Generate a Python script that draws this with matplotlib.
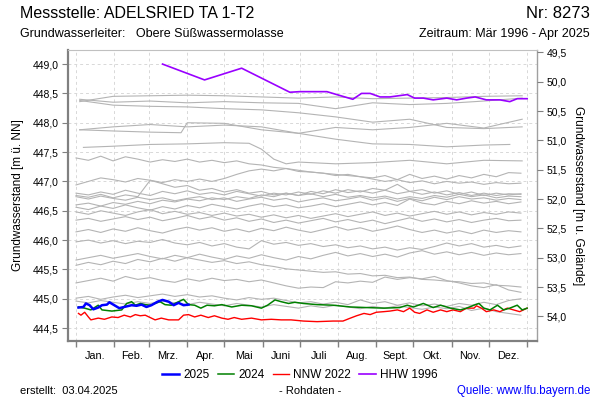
import numpy as np
import matplotlib
matplotlib.use('Agg')
from matplotlib import pyplot as plt
from matplotlib.ticker import FuncFormatter

plt.rcParams['font.family'] = ['Liberation Sans', 'DejaVu Sans']

# ground level of the well [m NN], used for the right axis (m below ground)
ground_level = 498.7

month_starts = [0, 31, 59, 90, 120, 151, 181, 212, 243, 273, 304, 334, 365]
month_names = ['Jan.', 'Feb.', 'Mrz.', 'Apr.', 'Mai', 'Juni', 'Juli', 'Aug.', 'Sept.', 'Okt.', 'Nov.', 'Dez.']

# older years, monthly readings
days_s = [3, 30, 60, 90, 120, 150, 180, 210, 240, 270, 300, 330, 361]
s1 = [448.36, 448.45, 448.46, 448.47, 448.46, 448.44, 448.42, 448.44, 448.41, 448.42, 448.43, 448.45, 448.46]
s2 = [448.40, 448.35, 448.37, 448.34, 448.36, 448.34, 448.33, 448.24, 448.34, 448.31, 448.33, 448.37, 448.42]
s3 = [448.38, 448.30, 448.28, 448.27, 448.24, 448.22, 448.17, 448.10, 448.01, 448.06, 447.92, 447.90, 447.93]
s4 = [447.88, 447.93, 447.97, 447.93, 447.96, 447.93, 447.82, 447.92, 447.88, 447.92, 447.99, 447.91, 448.06]
s5_days = [3, 30, 60, 85, 90, 120, 150, 180, 210, 240, 270, 300, 330, 351]
s5 = [447.88, 447.86, 447.84, 447.83, 448.00, 447.99, 447.88, 447.82, 447.72, 447.64, 447.63, 447.59, 447.62, 447.63]
s6_days = [6, 30, 60, 90, 120, 140, 150, 160, 170, 180, 210, 240, 270, 300, 330, 361]
s6 = [447.58, 447.60, 447.63, 447.64, 447.66, 447.65, 447.55, 447.38, 447.30, 447.33, 447.30, 447.32, 447.36, 447.30, 447.36, 447.35]

days_j = [0, 10, 20, 30, 40, 50, 60, 70, 80, 90, 100, 110, 120, 130, 140, 150, 160, 170, 180,
          190, 200, 210, 220, 230, 240, 250, 260, 270, 280, 290, 300, 310, 320, 330, 340, 350, 360]
j1 = [447.40,447.36,447.43,447.35,447.42,447.38,447.33,447.37,447.34,447.38,447.33,447.36,447.32,447.35,447.30,447.28,447.24,447.22,447.17,447.16,447.14,447.12,447.10,447.08,447.04,447.00,447.03,446.98,447.01,446.96,447.00,446.97,446.99,446.95,446.98,446.96,446.97]
j2 = [446.94,447.00,447.06,447.03,446.99,447.05,447.02,446.98,447.03,447.00,447.04,447.00,447.05,447.12,447.18,447.21,447.18,447.22,447.19,447.16,447.14,447.10,447.12,447.08,447.06,447.10,447.03,447.12,447.05,447.09,447.04,447.10,447.06,447.12,447.08,447.15,447.14]
j3 = [446.80,446.77,446.82,446.78,446.85,446.80,446.76,446.83,446.79,446.84,446.78,446.81,446.77,446.83,446.79,446.75,446.80,446.77,446.82,446.78,446.84,446.80,446.86,446.82,446.88,446.85,446.95,446.83,446.86,446.80,446.84,446.78,446.82,446.76,446.80,446.77,446.79]
j4 = [446.76,446.73,446.78,446.72,446.77,446.74,447.02,446.96,446.90,446.93,446.85,446.88,446.82,446.86,446.80,446.83,446.77,446.80,446.76,446.79,446.74,446.78,446.73,446.76,446.72,446.75,446.70,446.74,446.71,446.76,446.73,446.78,446.74,446.77,446.72,446.75,446.74]
j5 = [446.74,446.70,446.75,446.71,446.68,446.73,446.69,446.72,446.67,446.71,446.74,446.69,446.72,446.66,446.70,446.73,446.68,446.71,446.65,446.69,446.72,446.67,446.70,446.74,446.68,446.72,446.66,446.71,446.67,446.73,446.69,446.74,446.70,446.72,446.68,446.71,446.69]
j6 = [446.60,446.63,446.58,446.64,446.61,446.66,446.62,446.68,446.65,446.70,446.67,446.72,446.69,446.74,446.71,446.77,446.74,446.80,446.76,446.83,446.79,446.86,446.81,446.84,446.80,446.85,446.79,446.83,446.78,446.82,446.77,446.81,446.76,446.80,446.76,446.79,446.78]
j7 = [446.56,446.52,446.58,446.54,446.60,446.55,446.51,446.57,446.53,446.59,446.55,446.61,446.57,446.53,446.58,446.62,446.57,446.60,446.55,446.58,446.62,446.57,446.61,446.65,446.60,446.64,446.59,446.70,446.63,446.60,446.66,446.62,446.67,446.63,446.66,446.62,446.65]
j8 = [446.48,446.44,446.50,446.46,446.42,446.48,446.52,446.45,446.49,446.44,446.47,446.42,446.46,446.41,446.44,446.39,446.43,446.38,446.42,446.37,446.41,446.45,446.40,446.44,446.48,446.42,446.46,446.41,446.45,446.49,446.44,446.48,446.43,446.47,446.44,446.48,446.46]
j9 = [446.34,446.37,446.32,446.36,446.40,446.35,446.39,446.33,446.37,446.42,446.36,446.40,446.34,446.38,446.32,446.36,446.30,446.34,446.29,446.33,446.37,446.31,446.35,446.30,446.34,446.28,446.33,446.38,446.32,446.36,446.31,446.35,446.30,446.34,446.37,446.33,446.34]
j10 = [446.14,446.18,446.13,446.19,446.15,446.21,446.16,446.12,446.18,446.22,446.17,446.21,446.15,446.19,446.14,446.20,446.16,446.22,446.17,446.13,446.18,446.23,446.17,446.21,446.15,446.19,446.24,446.18,446.13,446.17,446.12,446.16,446.11,446.17,446.13,446.16,446.14]
j11 = [445.97,446.00,445.95,445.99,445.94,445.98,445.96,446.01,445.95,445.92,445.96,445.90,445.94,445.88,445.85,445.99,445.93,445.96,445.91,445.94,445.89,445.92,445.87,445.90,445.85,445.88,445.83,445.87,445.84,445.89,445.95,445.90,445.94,445.88,445.91,445.87,445.90]
l1 = [445.66,445.70,445.74,445.69,445.73,445.77,445.72,445.68,445.74,445.70,445.76,445.71,445.67,445.73,445.69,445.75,445.70,445.66,445.72,445.68,445.74,445.79,445.73,445.77,445.72,445.76,445.71,445.78,445.82,445.76,445.80,445.75,445.79,445.74,445.78,445.75,445.77]
l2 = [445.57,445.62,445.58,445.64,445.60,445.67,445.63,445.69,445.64,445.70,445.66,445.62,445.65,445.60,445.63,445.58,445.55,445.51,445.49,445.47,445.45,445.46,445.42,445.43,445.39,445.40,445.36,445.37,445.33,445.32,445.30,445.29,445.26,445.27,445.23,445.22,445.20]
l3 = [445.27,445.31,445.35,445.30,445.38,445.33,445.36,445.31,445.28,445.34,445.30,445.35,445.31,445.33,445.29,445.32,445.27,445.22,445.18,445.20,445.19,445.29,445.27,445.30,445.28,445.37,445.33,445.36,445.34,445.38,445.31,445.27,445.22,445.19,445.24,445.15,445.11]
l4 = [445.01,445.04,444.99,445.03,445.06,445.02,445.05,445.08,445.04,445.07,445.03,445.05,445.01,444.98,445.02,444.99,445.01,444.97,444.93,444.95,444.91,444.94,444.90,444.98,444.92,444.95,444.89,444.93,444.88,444.91,444.87,444.92,444.89,444.94,444.90,444.97,445.00]
l5 = [444.96,444.93,444.97,444.94,444.91,444.95,444.92,444.96,444.93,444.90,444.94,444.91,444.88,444.92,444.89,444.86,444.90,444.87,444.84,444.88,444.85,444.89,444.86,444.83,444.87,444.84,444.88,444.85,444.82,444.86,444.83,444.87,444.80,444.84,444.78,444.75,444.72]

days_2025 = [2,6,8,11,14,18,21,25,27,31,35,39,45,49,53,57,61,66,70,75,79,83,87,91]
vals_2025 = [444.85,444.86,444.92,444.89,444.82,444.85,444.89,444.90,444.94,444.89,444.84,444.86,
             444.89,444.88,444.90,444.86,444.89,444.95,444.98,444.95,444.89,444.93,444.89,444.90]

days_2024 = [2,7,12,18,21,29,37,41,45,48,52,56,60,64,68,72,77,83,87,91,96,101,106,112,118,126,134,142,150,155,
             161,166,172,177,184,195,208,222,235,249,262,268,273,281,289,295,303,311,316,322,326,330,335,341,346,351,357,361,365]
vals_2024 = [444.86,444.84,444.81,444.89,444.81,444.79,444.81,444.92,444.95,444.89,444.92,444.90,444.89,444.92,444.95,
             444.90,444.89,444.95,444.99,444.90,444.89,444.84,444.89,444.88,444.90,444.86,444.89,444.88,444.84,444.89,
             444.98,444.95,444.92,444.94,444.92,444.90,444.89,444.86,444.85,444.84,444.85,444.89,444.86,444.92,444.85,
             444.89,444.84,444.81,444.84,444.89,444.92,444.84,444.81,444.89,444.81,444.84,444.89,444.81,444.84]

days_2022 = [2,4,7,10,12,18,23,29,34,39,44,48,52,56,60,64,69,75,83,87,91,96,101,107,112,118,123,128,134,142,
             150,158,166,174,184,195,208,216,222,227,233,238,243,249,254,260,265,270,274,278,284,289,295,300,305,
             311,316,322,324,328,332,338,343,349,354,359,365]
vals_2022 = [444.75,444.72,444.77,444.69,444.64,444.67,444.65,444.69,444.68,444.72,444.69,444.73,444.71,444.72,444.68,
             444.64,444.67,444.64,444.64,444.72,444.73,444.69,444.72,444.68,444.71,444.67,444.65,444.68,444.65,444.67,
             444.64,444.65,444.64,444.64,444.62,444.61,444.62,444.62,444.67,444.71,444.75,444.73,444.77,444.78,444.79,
             444.81,444.78,444.84,444.77,444.75,444.81,444.77,444.81,444.78,444.81,444.78,444.84,444.84,444.88,444.84,
             444.78,444.81,444.78,444.84,444.81,444.78,444.84]

days_1996 = [70,104,134,173,181,203,211,224,231,238,246,254,268,274,281,289,300,308,316,323,332,343,351,357,365]
vals_1996 = [449.00,448.73,448.93,448.52,448.53,448.53,448.48,448.40,448.50,448.50,448.44,448.44,448.48,448.42,448.42,
             448.39,448.42,448.39,448.42,448.44,448.39,448.39,448.36,448.41,448.41]

left_ticks = [444.5, 445.0, 445.5, 446.0, 446.5, 447.0, 447.5, 448.0, 448.5, 449.0]
right_ticks = [49.5, 50.0, 50.5, 51.0, 51.5, 52.0, 52.5, 53.0, 53.5, 54.0]

fig = plt.figure(figsize=(6, 4), dpi=100)
ax = fig.add_axes([0.1133, 0.1475, 0.7817, 0.7275])

grey = '#b4b4b4'
for v in [s1, s2, s3, s4]:
    ax.plot(days_s, v, color=grey, lw=0.8)
ax.plot(s5_days, s5, color=grey, lw=0.8)
ax.plot(s6_days, s6, color=grey, lw=0.8)
for v in [j1, j2, j3, j4, j5, j6, j7, j8, j9, j10, j11, l1, l2, l3, l4, l5]:
    ax.plot(days_j, v, color=grey, lw=0.8)

ax.plot(days_2022, vals_2022, color='#ff0000', lw=1.0)
ax.plot(days_2024, vals_2024, color='#008000', lw=1.1)
ax.plot(days_2025, vals_2025, color='#0000ff', lw=1.8)
ax.plot(days_1996, vals_1996, color='#9900ff', lw=1.2)

ymin, ymax = 444.28, 449.24
ax.set_xlim(-6.5, 373)
ax.set_ylim(ymin, ymax)

fmt = FuncFormatter(lambda v, p: ('%.1f' % v).replace('.', ','))
ax.set_yticks(left_ticks)
ax.yaxis.set_major_formatter(fmt)
ax.set_xticks(month_starts)
ax.set_xticklabels([])
ax.set_xticks([(month_starts[i] + month_starts[i + 1]) / 2 for i in range(12)], minor=True)
ax.set_xticklabels(month_names, minor=True)
ax.tick_params(axis='x', which='minor', length=0, labelsize=7.8, pad=7)
ax.tick_params(axis='x', which='major', length=4, color='#808080', width=1)
ax.tick_params(axis='y', length=4, color='#808080', labelsize=7.5, pad=3)
ax.grid(True, which='major', color='#d8d8d8', ls=(0, (3, 3)), lw=0.7)

for s in ['left', 'bottom']:
    ax.spines[s].set_color('#808080')
    ax.spines[s].set_linewidth(1.6)
ax.spines['top'].set_color('#c0c0c0')
ax.spines['top'].set_linewidth(0.8)
ax.spines['right'].set_color('#a0a0a0')
ax.spines['right'].set_linewidth(1.0)

ax2 = ax.twinx()
ax2.set_ylim(ground_level - ymin, ground_level - ymax)
ax2.set_yticks(right_ticks)
ax2.yaxis.set_major_formatter(fmt)
ax2.tick_params(axis='y', length=4, color='#808080', labelsize=7.5, pad=3)
for s in ax2.spines.values():
    s.set_visible(False)

ax.set_ylabel('Grundwasserstand [m ü. NN]', fontsize=8.5, labelpad=6)
ax2.set_ylabel('Grundwasserstand [m u. Gelände]', fontsize=8.5, rotation=270, labelpad=12)

fig.text(20/600, 1 - 14/400, 'Messstelle: ADELSRIED TA 1-T2', fontsize=11.5, va='center', ha='left')
fig.text(590/600, 1 - 14/400, 'Nr: 8273', fontsize=12, va='center', ha='right')
fig.text(20/600, 1 - 34/400, 'Grundwasserleiter:   Obere Süßwassermolasse', fontsize=9, va='center', ha='left')
fig.text(590/600, 1 - 34/400, 'Zeitraum: Mär 1996 - Apr 2025', fontsize=9, va='center', ha='right')

h = [plt.Line2D([], [], color='#0000ff', lw=1.8),
     plt.Line2D([], [], color='#008000', lw=1.1),
     plt.Line2D([], [], color='#ff0000', lw=1.0),
     plt.Line2D([], [], color='#9900ff', lw=1.2)]
fig.legend(h, ['2025', '2024', 'NNW 2022', 'HHW 1996'], loc='center', bbox_to_anchor=(0.5, 1 - 375/400),
           ncol=4, frameon=False, fontsize=8.5, handlelength=1.4, handletextpad=0.35, columnspacing=0.7)

fig.text(20/600, 1 - 391/400, 'erstellt:  03.04.2025', fontsize=8, va='center', ha='left')
fig.text(310/600, 1 - 391/400, '- Rohdaten -', fontsize=8, va='center', ha='center')
fig.text(590/600, 1 - 391/400, 'Quelle: www.lfu.bayern.de', fontsize=8.3, va='center', ha='right', color='#0000ff')

fig.savefig('out.png', dpi=100)
